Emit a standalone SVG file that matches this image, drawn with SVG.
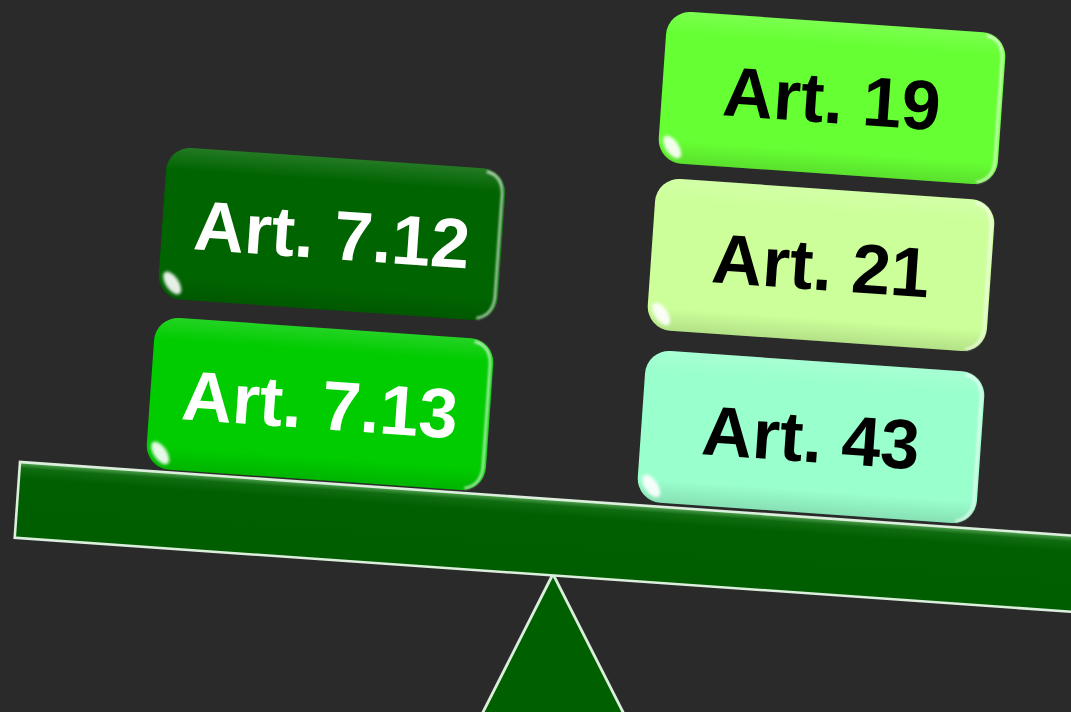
<svg xmlns="http://www.w3.org/2000/svg" xmlns:xlink="http://www.w3.org/1999/xlink" width="1071" height="712" viewBox="0 0 1071 712">
  <style>
    .bg { fill: #2a2a2a; }
    .beam { stroke: #dcefdc; stroke-width: 2.6; }
    .pivot { fill: #006000; stroke: #dcefdc; stroke-width: 2.8; stroke-linejoin: miter; }
    .box { stroke: none; }
    .lbl { font-family: "Liberation Sans", Arial, Helvetica, sans-serif; font-weight: 700; font-size: 70px; text-anchor: middle; }
    .light { fill: #ffffff; }
    .dark { fill: #000000; }
  </style>
  <defs>
    <!-- vertical shading of the beam: thin bright rim along the top -->
    <linearGradient id="beamFill" x1="0" y1="0" x2="0" y2="1">
      <stop offset="0" stop-color="#5aa85a"/>
      <stop offset="0.08" stop-color="#106c10"/>
      <stop offset="0.22" stop-color="#005f00"/>
      <stop offset="1" stop-color="#005e00"/>
    </linearGradient>
    <!-- top sheen of the tiles, fading out toward the corners -->
    <linearGradient id="sheen" x1="0" y1="0" x2="1" y2="0">
      <stop offset="0" stop-color="#ffffff" stop-opacity="0"/>
      <stop offset="0.08" stop-color="#ffffff" stop-opacity="0.55"/>
      <stop offset="0.88" stop-color="#ffffff" stop-opacity="0.6"/>
      <stop offset="1" stop-color="#ffffff" stop-opacity="0"/>
    </linearGradient>
    <linearGradient id="edgeShade" x1="0" y1="0" x2="0" y2="1">
      <stop offset="0" stop-color="#ffffff" stop-opacity="0.14"/>
      <stop offset="0.15" stop-color="#ffffff" stop-opacity="0"/>
      <stop offset="0.85" stop-color="#000000" stop-opacity="0"/>
      <stop offset="1" stop-color="#000000" stop-opacity="0.12"/>
    </linearGradient>
    <filter id="soft" x="-20%" y="-50%" width="140%" height="200%">
      <feGaussianBlur stdDeviation="1.3"/>
    </filter>
    <filter id="softer" x="-100%" y="-100%" width="300%" height="300%">
      <feGaussianBlur stdDeviation="1.6"/>
    </filter>
    <!-- glossy highlights shared by every tile (tile is 340 x 152, centred on 0,0) -->
    <g id="gloss">
      <rect x="-170" y="-76" width="340" height="152" rx="24" fill="url(#edgeShade)"/>
      <path d="M-148,-70 L148,-70" stroke="url(#sheen)" stroke-width="6" fill="none" filter="url(#soft)"/>
      <path d="M150,-73 Q166,-70 167,-52 L167,52 Q166,70 150,74" stroke="#ffffff" stroke-opacity="0.75" stroke-width="2.4" fill="none" filter="url(#soft)"/>
      <path d="M-166,-50 L-166,40" stroke="#ffffff" stroke-opacity="0.25" stroke-width="3" fill="none" filter="url(#soft)"/>
      <ellipse cx="-156" cy="60" rx="13" ry="6.5" transform="rotate(52 -156 60)" fill="#ffffff" fill-opacity="0.9" filter="url(#softer)"/>
    </g>
  </defs>

  <rect class="bg" x="0" y="0" width="1071" height="712"/>

  <!-- fulcrum -->
  <g id="fulcrum">
    <polygon class="pivot" points="553,574 480,718 626,718"/>
  </g>

  <!-- tilted beam -->
  <g id="beam">
    <rect class="beam" x="0" y="0" width="1120" height="76" fill="url(#beamFill)" transform="translate(20,462) rotate(4)"/>
  </g>

  <!-- left pan -->
  <g id="art-7-12" transform="translate(332,234) rotate(4)">
    <rect class="box" x="-170" y="-76" width="340" height="152" rx="24" fill="#006400"/>
    <use xlink:href="#gloss"/>
    <text class="lbl light" x="0" y="25">Art. 7.12</text>
  </g>
  <g id="art-7-13" transform="translate(320,404) rotate(4)">
    <rect class="box" x="-170" y="-76" width="340" height="152" rx="24" fill="#00cc00"/>
    <use xlink:href="#gloss"/>
    <text class="lbl light" x="0" y="25">Art. 7.13</text>
  </g>

  <!-- right pan -->
  <g id="art-19" transform="translate(832,98) rotate(4)">
    <rect class="box" x="-170" y="-76" width="340" height="152" rx="24" fill="#66ff33"/>
    <use xlink:href="#gloss"/>
    <text class="lbl dark" x="0" y="25">Art. 19</text>
  </g>
  <g id="art-21" transform="translate(821,265) rotate(4)">
    <rect class="box" x="-170" y="-76" width="340" height="152" rx="24" fill="#ccff99"/>
    <use xlink:href="#gloss"/>
    <text class="lbl dark" x="0" y="25">Art. 21</text>
  </g>
  <g id="art-43" transform="translate(811,437) rotate(4)">
    <rect class="box" x="-170" y="-76" width="340" height="152" rx="24" fill="#99ffcc"/>
    <use xlink:href="#gloss"/>
    <text class="lbl dark" x="0" y="25">Art. 43</text>
  </g>
</svg>
